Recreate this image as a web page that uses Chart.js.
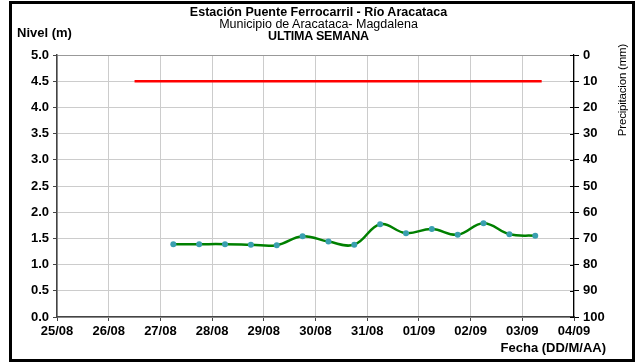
<!DOCTYPE html>
<html>
<head>
<meta charset="utf-8">
<script src="https://cdn.jsdelivr.net/npm/chart.js@4.4.0/dist/chart.umd.min.js"></script>
<style>
  html,body{margin:0;padding:0;background:#fff;}
  #wrap{position:relative;width:637px;height:364px;overflow:hidden;font-family:"Liberation Sans",Arial,sans-serif;}
  #frame{position:absolute;left:9px;top:1px;width:620px;height:355px;border:3px solid #000;pointer-events:none;}
  canvas{position:absolute;left:0;top:0;}
  .t{position:absolute;white-space:nowrap;color:#000;}
  .b{font-weight:bold;}
</style>
</head>
<body>
<div id="wrap">
  <canvas id="c" width="637" height="364"></canvas>
  <div id="frame"></div>
  <div class="t b" style="left:0;width:637px;text-align:center;top:6px;font-size:12.5px;line-height:13px;letter-spacing:0px;">Estación Puente Ferrocarril - Río Aracataca</div>
  <div class="t" style="left:0;width:637px;text-align:center;top:18px;font-size:12.5px;line-height:13px;letter-spacing:0px;">Municipio de Aracataca- Magdalena</div>
  <div class="t b" style="left:0;width:637px;text-align:center;top:30px;font-size:12.5px;line-height:13px;letter-spacing:-0.2px;">ULTIMA SEMANA</div>
  <div class="t b" style="left:17px;top:26px;font-size:13px;line-height:14px;">Nivel (m)</div>
  <div class="t b" style="right:31px;top:341px;font-size:13px;line-height:14px;">Fecha (DD/M/AA)</div>
  <div class="t" style="left:572px;top:84px;width:100px;text-align:center;font-size:11.5px;line-height:12px;letter-spacing:-0.2px;transform:rotate(-90deg);">Precipitacion (mm)</div>
</div>
<script>
// ---- data ----
const levelTimes = ["27/08 06:00","27/08 18:00","28/08 06:00","28/08 18:00","29/08 06:00","29/08 18:00","30/08 06:00","30/08 18:00","31/08 06:00","31/08 18:00","01/09 06:00","01/09 18:00","02/09 06:00","02/09 18:00","03/09 06:00"];
const levelValues = [1.39,1.39,1.39,1.38,1.37,1.54,1.44,1.38,1.77,1.60,1.68,1.57,1.79,1.58,1.55];
const alertTimes = ["26/08 12:00","03/09 09:00"];
const alertValues = [4.5,4.5];
const xTickLabels = ["25/08","26/08","27/08","28/08","29/08","30/08","31/08","01/09","02/09","03/09","04/09"];
const startDate = "25/08 00:00";

function toDays(s){
  const [dm,hm] = s.split(" ");
  const [d,m] = dm.split("/").map(Number);
  const [h,mi] = hm.split(":").map(Number);
  return Date.UTC(2023,m-1,d,h,mi)/86400000;
}
const t0 = toDays(startDate);
const levelPts = levelTimes.map((t,i)=>({x:toDays(t)-t0,y:levelValues[i]}));
const alertPts = alertTimes.map((t,i)=>({x:toDays(t)-t0,y:alertValues[i]}));

const tickFont = {family:"Liberation Sans, Arial, sans-serif", size:13, weight:"bold"};

new Chart(document.getElementById("c"),{
  type:"line",
  data:{datasets:[
    {data:alertPts,borderColor:"#ff0000",borderWidth:2.5,pointRadius:0,yAxisID:"y",tension:0},
    {data:levelPts,borderColor:"#008000",borderWidth:2.5,pointRadius:3,pointBackgroundColor:"#3a9fb0",pointBorderColor:"#3a9fb0",pointBorderWidth:0,tension:0.4,yAxisID:"y"}
  ]},
  options:{
    responsive:false,animation:false,
    layout:{padding:{top:55,left:0,right:0,bottom:0}},
    plugins:{legend:{display:false},tooltip:{enabled:false},title:{display:false}},
    scales:{
      x:{type:"linear",min:0,max:10,
        afterFit(s){s.height=47;},
        afterBuildTicks(s){s.ticks=xTickLabels.map((_,i)=>({value:i}));},
        ticks:{font:tickFont,color:"#000",padding:3,maxRotation:0,autoSkip:false,callback:(v,i)=>xTickLabels[i]},
        grid:{color:"#cccccc",tickColor:"#444",tickLength:4,lineWidth:1},
        border:{color:"#444",width:1.5}
      },
      y:{position:"left",min:0,max:5,
        afterFit(s){s.width=57;},
        ticks:{stepSize:0.5,font:tickFont,color:"#000",padding:4,callback:v=>v.toFixed(1)},
        grid:{color:(c)=>c.tick&&c.tick.value===5?"#999":"#cccccc",tickColor:"#444",tickLength:4,lineWidth:1},
        border:{color:"#444",width:1.5}
      },
      y1:{position:"right",min:0,max:100,reverse:true,
        afterFit(s){s.width=63;},
        ticks:{stepSize:10,font:tickFont,color:"#000",padding:4},
        grid:{drawOnChartArea:false,color:"#000",tickLength:5},
        border:{color:"#000",width:1.2}
      }
    }
  },
  plugins:[{id:"rtick",afterDraw(ch){
    const s=ch.scales.y1,ctx=ch.ctx;ctx.save();ctx.strokeStyle="#000";ctx.lineWidth=1;
    s.ticks.forEach((t,i)=>{const y=Math.round(s.getPixelForTick(i))+0.5;ctx.beginPath();ctx.moveTo(s.left-4,y);ctx.lineTo(s.left,y);ctx.stroke();});
    ctx.restore();
  }}]
});
</script>
</body>
</html>
